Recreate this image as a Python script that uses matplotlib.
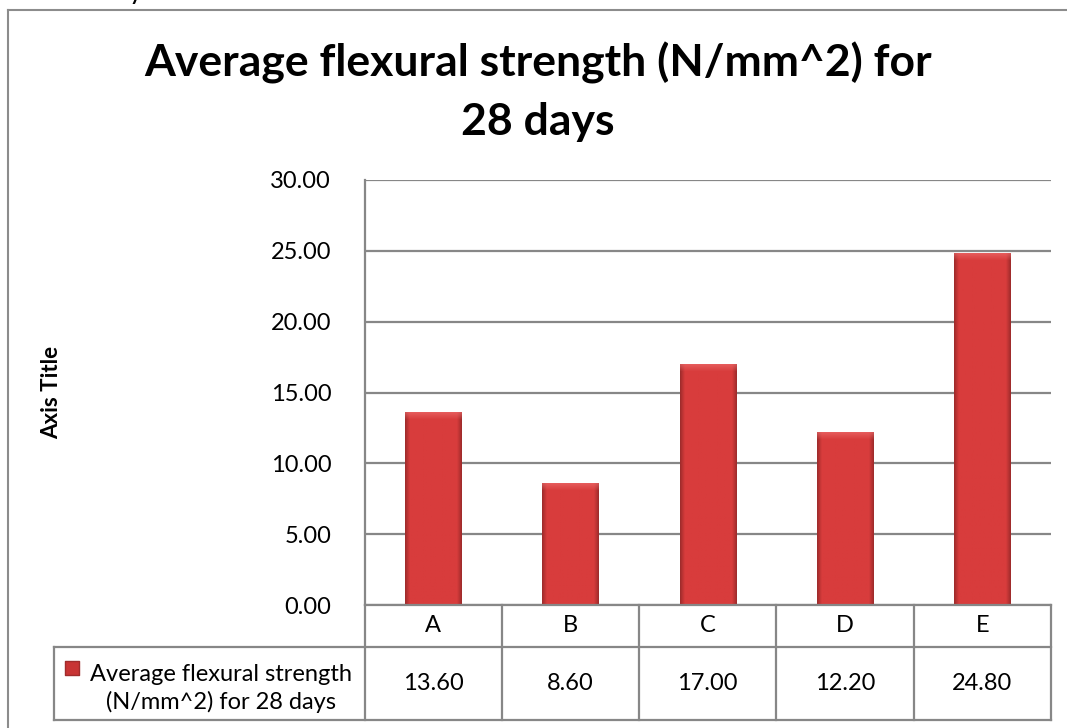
import numpy as np
import matplotlib
matplotlib.use("Agg")
from matplotlib import pyplot as plt
from matplotlib import transforms
from matplotlib.colors import to_rgb
from matplotlib.lines import Line2D

# data
categories = ["A", "B", "C", "D", "E"]
values = [13.60, 8.60, 17.00, 12.20, 24.80]
series_name = "Average flexural strength\n(N/mm^2) for 28 days"
title = "Average flexural strength (N/mm^2) for\n28 days"
yticks = [0, 5, 10, 15, 20, 25, 30]

plt.rcParams['font.family'] = ['Lato', 'DejaVu Sans']
grid_col = "#878787"
fs = 17

W, H = 1067, 728
fig = plt.figure(figsize=(W / 100, H / 100), dpi=100)

# plot area in pixels: left 364.5, right 1051, top 180, bottom 605
ax = fig.add_axes([364.5 / W, (H - 605) / H, (1051 - 364.5) / W, (605 - 180) / H])
ax.set_yticks(yticks)
ax.set_yticklabels([f"{v:.2f}" for v in yticks], fontsize=fs)
ax.tick_params(axis='y', length=0, pad=24)
ax.set_xticks([])
for s in ["top", "right", "bottom"]:
    ax.spines[s].set_visible(False)
ax.spines["left"].set_color(grid_col)
ax.spines["left"].set_linewidth(1.6)
ax.yaxis.grid(True, color=grid_col, linewidth=1.6)
ax.set_axisbelow(True)

ax.set_ylabel("Axis Title", fontsize=16, fontweight="bold")
ax.yaxis.set_label_coords((62 - 364.5) / (1051 - 364.5), 0.5)

# bars with a shaded look
bars = ax.bar(range(len(categories)), values, width=0.41, color="none", zorder=2)
base = np.array(to_rgb("#d83c3c"))
dark = np.array(to_rgb("#a02c2c"))
light = np.array(to_rgb("#ee7070"))
px_per_unit = (605 - 180) / 30
for b in bars:
    x0, w, h = b.get_x(), b.get_width(), b.get_height()
    nrow = max(int(h * px_per_unit), 10)
    ncol = 60
    t = np.linspace(0, 1, ncol)
    edge = np.clip(np.minimum(t, 1 - t) / 0.08, 0, 1)
    prof = dark[None, :] * (1 - edge[:, None]) + base[None, :] * edge[:, None]
    img = np.repeat(prof[None, :, :], nrow, axis=0)
    top = 7
    for r in range(top):
        a = 1 - r / top
        img[r] = img[r] * (1 - 0.6 * a) + light * 0.6 * a
    ax.imshow(img, extent=[x0, x0 + w, 0, h], aspect="auto", zorder=2,
              interpolation="bilinear")
ax.set_xlim(-0.5, len(categories) - 0.5)
ax.set_ylim(0, 30)

# data table below the plot
tr = transforms.blended_transform_factory(ax.transData, ax.transAxes)
r1 = -(647 - 605) / (605 - 180)
r2 = -(720 - 605) / (605 - 180)
n = len(categories)
unit_px = (1051 - 364.5) / n
leg_left = -0.5 - (364.5 - 53.5) / unit_px
lw = 1.6
ax.plot([-0.5, n - 0.5], [0, 0], transform=tr, color=grid_col, lw=lw, clip_on=False)
ax.plot([leg_left, n - 0.5], [r1, r1], transform=tr, color=grid_col, lw=lw, clip_on=False)
ax.plot([leg_left, n - 0.5], [r2, r2], transform=tr, color=grid_col, lw=lw, clip_on=False)
for i in range(n + 1):
    ax.plot([i - 0.5, i - 0.5], [0, r2], transform=tr, color=grid_col, lw=lw, clip_on=False)
ax.plot([leg_left, leg_left], [r1, r2], transform=tr, color=grid_col, lw=lw, clip_on=False)

for i, (c, v) in enumerate(zip(categories, values)):
    ax.text(i, r1 / 2, c, transform=tr, ha="center", va="center", fontsize=fs)
    ax.text(i, (r1 + r2) / 2, f"{v:.2f}", transform=tr, ha="center", va="center", fontsize=fs)

ax.text(-0.5 - (364.5 - 221) / unit_px, (r1 + r2) / 2 - 0.012, series_name, transform=tr,
        ha="center", va="center", fontsize=fs, linespacing=1.3)
ax.scatter([-0.5 - (364.5 - 72) / unit_px], [r1 - (667.5 - 647) / (605 - 180)], transform=tr,
           marker="s", s=100, color="#c83434", edgecolor="#a02c2c", clip_on=False)

fig.suptitle(title, x=538 / W, y=1 - 42 / H, fontsize=32, fontweight="bold",
             linespacing=1.55, va="top")

# cut-off text from the page above the chart
fig.text(136 / W, 1 + 1 / H, "y", fontsize=20, ha="center", va="baseline")

# outer chart frame: only left and top edges fall inside the image
fx, fy = 8.3 / W, 1 - 9.7 / H
fig.add_artist(Line2D([fx, fx], [0, fy], transform=fig.transFigure, color="#8c8c8c", lw=1.5))
fig.add_artist(Line2D([fx, 1], [fy, fy], transform=fig.transFigure, color="#8c8c8c", lw=1.5))

fig.savefig("out.png", dpi=100, facecolor="white")
